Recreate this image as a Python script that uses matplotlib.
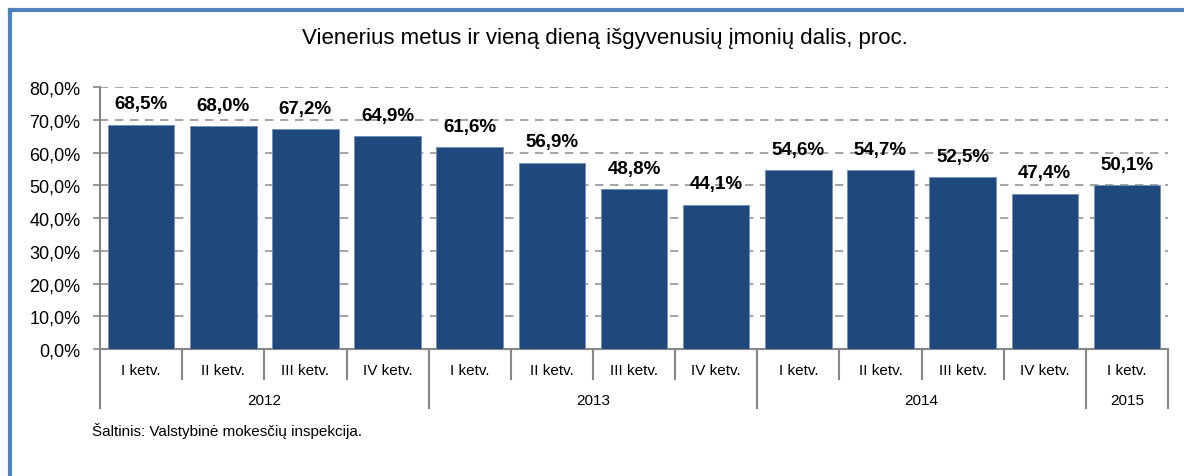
import matplotlib.pyplot as plt
import matplotlib.transforms as mtransforms
from matplotlib.lines import Line2D

plt.rcParams['font.family'] = ['Liberation Sans Narrow', 'Liberation Sans', 'DejaVu Sans']

quarters = ["I ketv.", "II ketv.", "III ketv.", "IV ketv.",
            "I ketv.", "II ketv.", "III ketv.", "IV ketv.",
            "I ketv.", "II ketv.", "III ketv.", "IV ketv.",
            "I ketv."]
values = [68.5, 68.0, 67.2, 64.9, 61.6, 56.9, 48.8, 44.1, 54.6, 54.7, 52.5, 47.4, 50.1]
years = ["2012", "2013", "2014", "2015"]
year_counts = [4, 4, 4, 1]

title = "Vienerius metus ir vieną dieną išgyvenusių įmonių dalis, proc."
source = "Šaltinis: Valstybinė mokesčių inspekcija."

bar_color = "#1F497D"
axis_gray = "#868686"

fig = plt.figure(figsize=(11.84, 4.77), dpi=100)
ax = fig.add_axes([0.0845, 0.2662, 0.902, 0.5493])

x = list(range(len(values)))
ax.bar(x, values, width=0.81, color=bar_color, edgecolor="#6F8FB8", linewidth=0.6, zorder=3)

for xi, v in zip(x, values):
    ax.annotate(f"{v:.1f}%".replace(".", ","), (xi, v), xytext=(0, 15),
                textcoords="offset points", ha="center", va="center",
                fontsize=13.5, fontweight="bold", color="black")

ax.set_xlim(-0.5, len(values) - 0.5)
ax.set_ylim(0, 80)
yt = list(range(0, 81, 10))
ax.set_yticks(yt)
ax.set_yticklabels([f"{t:.1f}%".replace(".", ",") for t in yt], fontsize=13)
ax.yaxis.grid(True, linestyle=(0, (5, 4)), color="#959595", linewidth=1.2, zorder=0)
ax.set_axisbelow(True)
ax.tick_params(axis="y", direction="out", length=5, color=axis_gray, width=1.2, pad=9)
ax.set_xticks([])

for s in ["top", "right"]:
    ax.spines[s].set_visible(False)
for s in ["left", "bottom"]:
    ax.spines[s].set_color(axis_gray)
    ax.spines[s].set_linewidth(1.5)

# category axis with quarter and year groups
trans = mtransforms.blended_transform_factory(ax.transData, ax.transAxes)
year_edges = [0]
for c in year_counts:
    year_edges.append(year_edges[-1] + c)
for i in range(len(values) + 1):
    depth = -0.225 if i in year_edges else -0.1145
    ax.plot([i - 0.5, i - 0.5], [0, depth], transform=trans, color=axis_gray,
            linewidth=1.5, clip_on=False)
for xi, q in zip(x, quarters):
    ax.text(xi, -0.08, q, transform=trans, ha="center", va="center", fontsize=11)
for k, yr in enumerate(years):
    mid = (year_edges[k] + year_edges[k + 1]) / 2 - 0.5
    ax.text(mid, -0.195, yr, transform=trans, ha="center", va="center", fontsize=11)

fig.text(0.511, 0.92, title, ha="center", va="center", fontsize=16)
fig.text(0.0775, 0.097, source, ha="left", va="center", fontsize=11)

# outer frame (blue)
fig.add_artist(Line2D([0.0085, 0.0085], [0.0, 0.977], transform=fig.transFigure,
                      color="#4F81BD", linewidth=3))
fig.add_artist(Line2D([0.0085, 1.0], [0.977, 0.977], transform=fig.transFigure,
                      color="#4F81BD", linewidth=3))

fig.savefig("out.png", dpi=100)
